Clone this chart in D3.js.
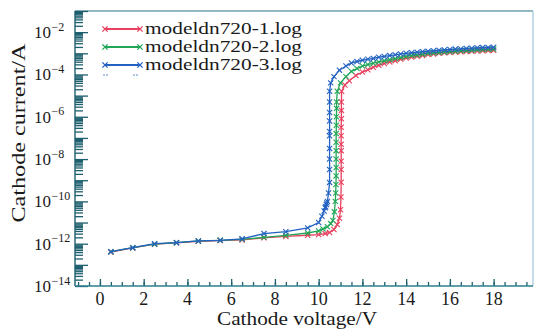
<!DOCTYPE html>
<html><head><meta charset="utf-8">
<script src="https://cdn.jsdelivr.net/npm/d3@7"></script>
<style>
html,body{margin:0;padding:0;background:#fff;}
svg{display:block;}
</style></head><body>
<script>
// ---- data ----
const seriesNames = ["modeldn720-1.log","modeldn720-2.log","modeldn720-3.log"];
const seriesColors = ["#e8405e","#1fa657","#2262c2"];

const volt1 = [0.5,1.5,2.5,3.5,4.5,5.5,6.5,7.5,8.5,9.5,10.0,10.3,10.5,10.7,10.85,10.95,11.0,11.02,11.03,11.03,11.03,11.03,11.03,11.03,11.03,11.04,11.04,11.04,11.05,11.2,11.4,11.7,12,12.25,12.5,12.75,13,13.25,13.5,13.75,14,14.25,14.5,14.75,15,15.25,15.5,15.75,16,16.25,16.5,16.75,17,17.25,17.5,17.75,18];
const cur1 = [4.0e-13,6.3e-13,9.5e-13,1.1e-12,1.3e-12,1.4e-12,1.5e-12,1.9e-12,2.2e-12,2.5e-12,2.7e-12,3.0e-12,3.4e-12,4.7e-12,8e-12,1.6e-11,4e-11,1.6e-10,8e-10,3.2e-9,8e-9,2.5e-8,5e-8,1.26e-7,3.2e-7,8e-7,2e-6,5e-6,1.6e-5,3.2e-5,5e-5,8.9e-5,1.3e-4,1.66e-4,2.2e-4,2.7e-4,3.3e-4,3.9e-4,4.5e-4,5.2e-4,6.0e-4,6.6e-4,7.2e-4,7.9e-4,8.7e-4,9.3e-4,1.0e-3,1.05e-3,1.1e-3,1.14e-3,1.17e-3,1.22e-3,1.26e-3,1.29e-3,1.32e-3,1.35e-3,1.38e-3];

const volt2 = [0.5,1.5,2.5,3.5,4.5,5.5,6.5,7.5,8.5,9.5,10.0,10.2,10.4,10.55,10.65,10.72,10.76,10.78,10.79,10.8,10.8,10.8,10.8,10.8,10.8,10.81,10.81,10.82,10.82,10.85,11.0,11.25,11.5,11.75,12,12.25,12.5,12.75,13,13.25,13.5,13.75,14,14.25,14.5,14.75,15,15.25,15.5,15.75,16,16.25,16.5,16.75,17,17.25,17.5,17.75,18];
const cur2 = [4.2e-13,6.5e-13,9.5e-13,1.12e-12,1.35e-12,1.45e-12,1.6e-12,2.0e-12,2.5e-12,3.2e-12,4.0e-12,5.0e-12,6.3e-12,8.9e-12,1.26e-11,3.2e-11,1e-10,2.5e-10,6.3e-10,1.6e-9,4e-9,1e-8,2.5e-8,6.3e-8,1.6e-7,4e-7,1e-6,2.5e-6,5e-6,1.6e-5,4e-5,7.9e-5,1.4e-4,1.9e-4,2.5e-4,2.95e-4,3.4e-4,3.9e-4,4.5e-4,5.0e-4,5.6e-4,6.3e-4,7.1e-4,7.8e-4,8.3e-4,9.1e-4,1.0e-3,1.05e-3,1.1e-3,1.15e-3,1.2e-3,1.26e-3,1.32e-3,1.36e-3,1.41e-3,1.46e-3,1.51e-3,1.55e-3,1.58e-3];

const volt3 = [0.5,1.5,2.5,3.5,4.5,5.5,6.5,7.5,8.5,9.5,10.0,10.15,10.25,10.3,10.32,10.35,10.37,10.4,10.45,10.5,10.5,10.5,10.5,10.5,10.5,10.5,10.5,10.5,10.5,10.55,10.7,10.95,11.25,11.5,11.75,12,12.25,12.5,12.75,13,13.25,13.5,13.75,14,14.25,14.5,14.75,15,15.25,15.5,15.75,16,16.25,16.5,16.75,17,17.25,17.5,17.75,18];
const cur3 = [4.2e-13,6.5e-13,1.0e-12,1.12e-12,1.35e-12,1.45e-12,1.7e-12,3.0e-12,3.7e-12,5.6e-12,1.0e-11,2.0e-11,3.5e-11,5.0e-11,5.6e-11,7.1e-11,8.5e-11,1.0e-10,2.5e-10,7.9e-10,3.2e-9,1e-8,3.2e-8,1.26e-7,2.0e-7,6.3e-7,1.6e-6,5.0e-6,1.6e-5,4.0e-5,7.9e-5,1.6e-4,2.5e-4,3.5e-4,4.1e-4,4.7e-4,5.2e-4,5.75e-4,6.5e-4,7.1e-4,7.8e-4,8.5e-4,9.3e-4,1.0e-3,1.07e-3,1.12e-3,1.2e-3,1.26e-3,1.32e-3,1.38e-3,1.45e-3,1.51e-3,1.58e-3,1.62e-3,1.7e-3,1.74e-3,1.82e-3,1.86e-3,1.9e-3,1.95e-3];

const xTickValues = [0,2,4,6,8,10,12,14,16,18];
const yTickExponents = [-14,-12,-10,-8,-6,-4,-2];

// ---- layout ----
const W = 535, H = 329;
const L = 75, R = 533, T = 11, B = 286;
const axisColor = "#1e5f6e";
const FONT = "Liberation Serif";
const TXT = "#1a1a1a";

const svg = d3.select("body").append("svg").attr("width", W).attr("height", H);
function txt(sel, size) {
  return sel.style("font-family", FONT).style("font-size", size + "px").attr("fill", TXT);
}

const x = d3.scaleLinear().domain([-1.14, 19.8]).range([L, R]);
const y = d3.scaleLog().domain([1e-14, 1e-1]).range([B, T]);

// frame: top and right
svg.append("line").attr("x1", L).attr("x2", R).attr("y1", T).attr("y2", T)
  .attr("stroke", "#2b7487").attr("stroke-width", 1.2);
svg.append("line").attr("x1", R).attr("x2", R).attr("y1", T).attr("y2", B)
  .attr("stroke", "#9fc6de").attr("stroke-width", 1.2);

// y axis (ticks inside, pointing right)
const yMinor = [];
for (let e = -14; e < -1; e++) for (let m = 2; m <= 9; m++) yMinor.push(m * Math.pow(10, e));
const yMajor = d3.range(-14, 0).map(e => Math.pow(10, e));

const yAxisMinor = d3.axisRight(y).tickValues(yMinor).tickSize(8).tickFormat("");
const yAxisMajor = d3.axisRight(y).tickValues(yMajor).tickSize(13).tickFormat("");
[yAxisMinor, yAxisMajor].forEach(a => {
  const g = svg.append("g").attr("transform", `translate(${L},0)`).call(a);
  g.select(".domain").remove();
  g.selectAll("line").attr("stroke", axisColor).attr("stroke-width", 1.3);
});
svg.append("line").attr("x1", L).attr("x2", L).attr("y1", T).attr("y2", B)
  .attr("stroke", axisColor).attr("stroke-width", 1.4);

// y tick labels
const yl = svg.append("g");
yTickExponents.forEach(e => {
  txt(yl.append("text"), 17).attr("x", 51).attr("y", y(Math.pow(10, e)) + 6)
    .attr("text-anchor", "end").text("10");
  txt(yl.append("text"), 12).attr("x", 51.5).attr("y", y(Math.pow(10, e)) - 1.5)
    .text("\u2212" + Math.abs(e));
});

// x axis (ticks inside, pointing up)
const xMinor = d3.range(-1, 19.6, 0.5);
const xAxisMinor = d3.axisTop(x).tickValues(xMinor).tickSize(4).tickFormat("");
const xAxisMajor = d3.axisTop(x).tickValues(xTickValues).tickSize(7).tickFormat("");
[xAxisMinor, xAxisMajor].forEach(a => {
  const g = svg.append("g").attr("transform", `translate(0,${B})`).call(a);
  g.select(".domain").remove();
  g.selectAll("line").attr("stroke", axisColor).attr("stroke-width", 1.3);
});
svg.append("line").attr("x1", L).attr("x2", R).attr("y1", B).attr("y2", B)
  .attr("stroke", "#2a7f8e").attr("stroke-width", 1.6);

txt(svg.append("g").selectAll("text").data(xTickValues).join("text"), 18)
  .attr("x", d => x(d)).attr("y", 305).attr("text-anchor", "middle").text(d => d);

// axis titles
txt(svg.append("text"), 18).attr("x", 297).attr("y", 325).attr("text-anchor", "middle")
  .attr("textLength", 160).attr("lengthAdjust", "spacingAndGlyphs").text("Cathode voltage/V");
txt(svg.append("text"), 19).attr("transform", "translate(25,133) rotate(-90)")
  .attr("text-anchor", "middle").attr("textLength", 179).attr("lengthAdjust", "spacingAndGlyphs")
  .text("Cathode current/A");

// series
const series = [
  {v: volt1, c: cur1},
  {v: volt2, c: cur2},
  {v: volt3, c: cur3}
];
const line = d3.line().x(d => x(d[0])).y(d => y(d[1]));
const xMark = (s) => `M${-s},${-s}L${s},${s}M${-s},${s}L${s},${-s}`;

series.forEach((s, i) => {
  const pts = s.v.map((v, k) => [v, s.c[k]]);
  const g = svg.append("g");
  g.append("path").datum(pts).attr("d", line).attr("fill", "none")
    .attr("stroke", seriesColors[i]).attr("stroke-width", 1.3);
  g.selectAll("path.m").data(pts).join("path").attr("class", "m")
    .attr("transform", d => `translate(${x(d[0])},${y(d[1])})`)
    .attr("d", xMark(2.6)).attr("stroke", seriesColors[i]).attr("stroke-width", 1.1).attr("fill", "none");
});

// legend
const lg = svg.append("g");
seriesNames.forEach((n, i) => {
  const yy = 29 + i * 18;
  lg.append("line").attr("x1", 105).attr("x2", 140).attr("y1", yy).attr("y2", yy)
    .attr("stroke", seriesColors[i]).attr("stroke-width", 1.8);
  [105, 140].forEach(xx => lg.append("path").attr("transform", `translate(${xx},${yy})`)
    .attr("d", xMark(2.6)).attr("stroke", seriesColors[i]).attr("stroke-width", 1.3).attr("fill", "none"));
  txt(lg.append("text"), 16).attr("x", 145).attr("y", yy + 5)
    .attr("textLength", 157).attr("lengthAdjust", "spacingAndGlyphs").text(n);
});
// clipped remnant of a fourth legend row
[104, 107, 134, 137].forEach(xx => lg.append("circle").attr("cx", xx).attr("cy", 75).attr("r", 0.7).attr("fill", seriesColors[2]));
</script>
</body></html>
